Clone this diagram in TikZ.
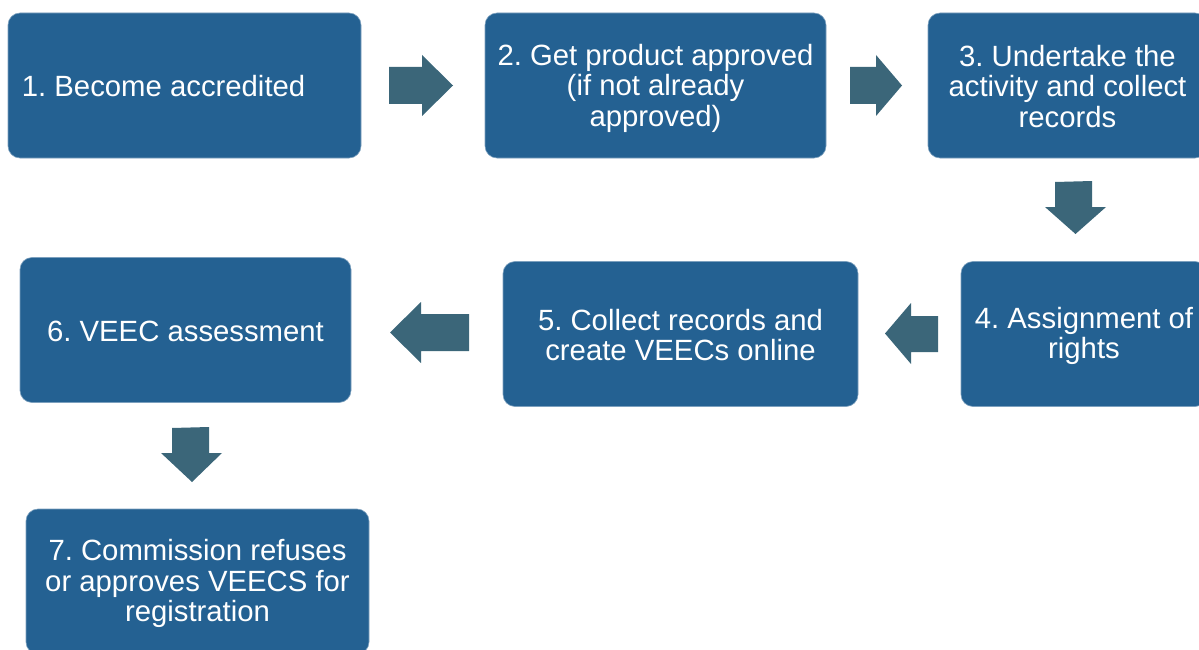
\documentclass[tikz,border=0pt]{standalone}
\usepackage{fontspec}
\setmainfont{Liberation Sans}
\frenchspacing
\definecolor{boxblue}{HTML}{246192}
\definecolor{arrowteal}{HTML}{3B6679}
\begin{document}
\begin{tikzpicture}[x=1pt,y=-1pt,
  stepbox/.style={fill=boxblue, draw=boxblue!60!white, line width=0.6pt, rounded corners=12pt,
    inner sep=0pt, minimum height=145pt},
  steptext/.style={text=white, font=\fontsize{29.3}{30.5}\selectfont, align=center, inner sep=0pt},
  blockarrow/.style={fill=arrowteal}]
\path[use as bounding box, clip] (0,0) rectangle (1199,650);
% boxes
\node[stepbox, minimum width=353pt] (b1) at (184.5,85.5) {};
\node[stepbox, minimum width=341pt] (b2) at (655.5,85.5) {};
\node[stepbox, minimum width=279pt] (b3) at (1067.5,85.5) {};
\node[stepbox, minimum width=246pt] (b4) at (1084,334) {};
\node[stepbox, minimum width=355pt] (b5) at (680.5,334) {};
\node[stepbox, minimum width=331pt] (b6) at (185.5,330) {};
\node[stepbox, minimum width=343pt] (b7) at (197.5,581.5) {};
% texts
\node[steptext, anchor=west] (t1) at ([xshift=14pt,yshift=-1pt]b1.west) {1. Become accredited};
\node[steptext] (t2) at ([yshift=-2.5pt]b2.center) {2. Get product approved\\(if not already\\approved)};
\node[steptext] (t3) at ([yshift=-1pt]b3.center) {3. Undertake the\\activity and collect\\records};
\node[steptext] (t4) at ([yshift=-2pt]b4.center) {4. Assignment of\\rights};
\node[steptext] (t5) at ([yshift=-1pt]b5.center) {5. Collect records and\\create VEECs online};
\node[steptext] (t6) at ([yshift=-1pt]b6.center) {6. VEEC assessment};
\node[steptext] (t7) at ([yshift=-2pt]b7.center) {7. Commission refuses\\or approves VEECS for\\registration};
% block arrows
\fill[blockarrow] (389,67) -- (422,67) -- (422,55) -- (453,85.5) -- (422,116) -- (422,104) -- (389,104) -- cycle;
\fill[blockarrow] (850,67) -- (876,67) -- (876,55) -- (902,85.5) -- (876,116) -- (876,104) -- (850,104) -- cycle;
\fill[blockarrow] (1055,182) -- (1092,181) -- (1092,207) -- (1106,207) -- (1075.5,234) -- (1045,207) -- (1055,207) -- cycle;
\fill[blockarrow] (938,316) -- (911,316) -- (911,303) -- (885,333.5) -- (911,364) -- (911,352) -- (938,352) -- cycle;
\fill[blockarrow] (469,314) -- (421,314) -- (421,302) -- (390,332.5) -- (421,363) -- (421,351) -- (469,351) -- cycle;
\fill[blockarrow] (172,428) -- (209,427) -- (209,453) -- (222,453) -- (192,482) -- (161,453) -- (172,453) -- cycle;
\end{tikzpicture}
\end{document}
